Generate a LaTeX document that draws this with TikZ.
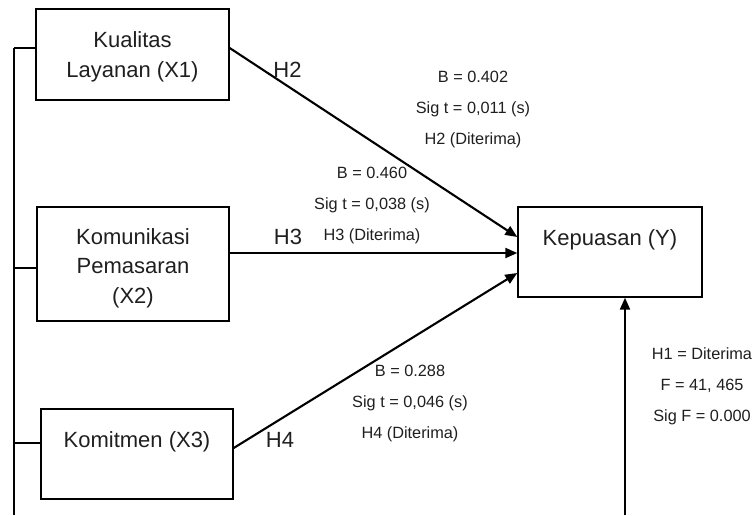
\documentclass[tikz,border=0pt]{standalone}
\usepackage{fontspec}
\setmainfont{Liberation Sans}
\usetikzlibrary{arrows.meta,calc}
\begin{document}
\begin{tikzpicture}[x=1pt,y=-1pt,
  box/.style={draw, line width=1.4pt, inner sep=0pt},
  big/.style={font=\fontsize{22}{30}\selectfont, align=center, inner sep=0pt, text=black!88},
  small/.style={font=\fontsize{16.3}{31}\selectfont, align=center, inner sep=0pt, text=black!88},
  conn/.style={line width=2.1pt},
  arr/.style={conn, -{Triangle[length=12pt,width=10pt]}}]
\useasboundingbox (0,0) rectangle (755,515);
% boxes
\node[box, minimum width=193pt, minimum height=91pt] (x1) at (132.5,54.5) {};
\node[box, minimum width=192pt, minimum height=114pt] (x2) at (133,264) {};
\node[box, minimum width=192pt, minimum height=90pt] (x3) at (137,454) {};
\node[box, minimum width=184pt, minimum height=90pt] (y) at (610,252) {};
% box texts
\node[big] (x1t) at (132.5,57) {Kualitas\\Layanan (X1)};
\node[big, font=\fontsize{22}{29.5}\selectfont] (x2t) at (133,268) {Komunikasi\\Pemasaran\\(X2)};
\node[big] (x3t) at (137,442) {Komitmen (X3)};
\node[big] (yt) at (610,240) {Kepuasan (Y)};
% bus on left
\coordinate (bustop) at (14,48);
\coordinate (busbot) at (14,515);
\draw[conn] (bustop) -- (busbot);
\draw[conn] (bustop) -- (bustop -| x1.west);
\draw[conn] (14,268) coordinate (b2) -- (b2 -| x2.west);
\draw[conn] (14,443) coordinate (b3) -- (b3 -| x3.west);
% arrows to Y
\coordinate (s1) at ($(x1.east)+(0,-6.5)$);
\coordinate (e1) at ($(y.west)+(0,-15)$);
\draw[arr] (s1) -- (e1);
\coordinate (s2) at ($(x2.east)+(0,-11)$);
\draw[arr] (s2) -- (s2 -| y.west);
\coordinate (s3) at ($(x3.east)+(0,-6)$);
\coordinate (e3) at ($(y.west)+(0,21)$);
\draw[arr] (s3) -- (e3);
\coordinate (h1s) at (625,515);
\draw[arr] (h1s) -- (h1s |- y.south);
% labels
\node[big] (h2) at (287.5,70) {H2};
\node[big] (h3) at (288,237) {H3};
\node[big] (h4) at (280,440) {H4};
\node[small] (l2) at (473,109) {B = 0.402\\Sig t = 0,011 (s)\\H2 (Diterima)};
\node[small] (l3) at (372,205) {B = 0.460\\Sig t = 0,038 (s)\\H3 (Diterima)};
\node[small] (l4) at (410,403) {B = 0.288\\Sig t = 0,046 (s)\\H4 (Diterima)};
\node[small] (l1) at (702,386) {H1 = Diterima\\F = 41, 465\\Sig F = 0.000};
\end{tikzpicture}
\end{document}
